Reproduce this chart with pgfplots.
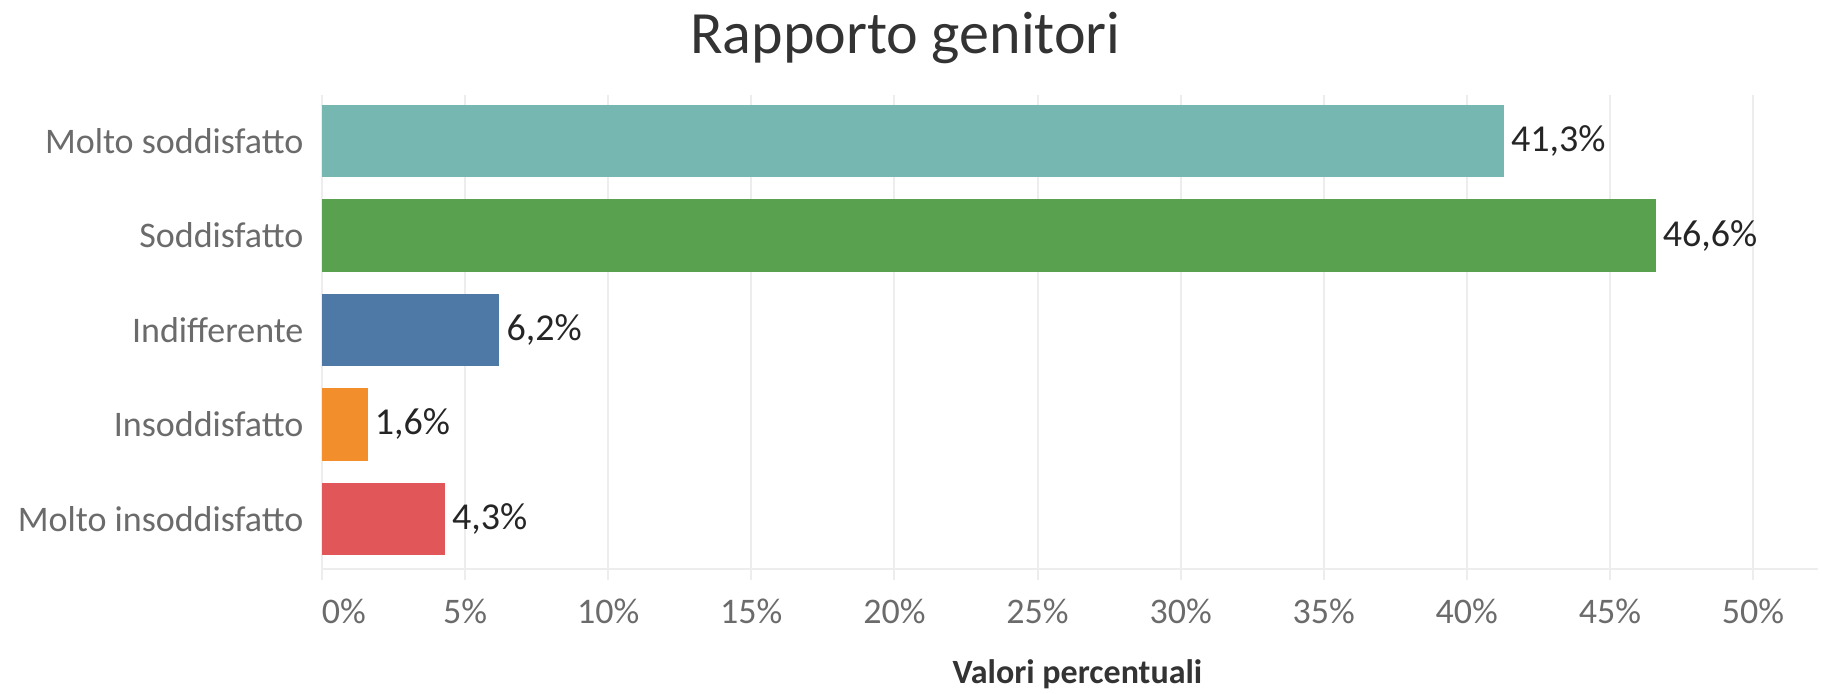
\documentclass[border=0pt]{standalone}
\usepackage{fontspec}
\setmainfont{Carlito}
\usepackage{pgfplots}
\pgfplotsset{compat=1.18}
\definecolor{cteal}{HTML}{76B7B2}
\definecolor{cgreen}{HTML}{59A14F}
\definecolor{cblue}{HTML}{4E79A7}
\definecolor{corange}{HTML}{F28E2B}
\definecolor{cred}{HTML}{E15759}
\definecolor{gridc}{HTML}{EDEDED}
\definecolor{tickc}{HTML}{6B6B6B}
\definecolor{valc}{HTML}{252525}
\definecolor{titc}{HTML}{333333}
\begin{document}
\begin{tikzpicture}
\useasboundingbox (0,0) rectangle (911pt,346.5pt);
\begin{axis}[
  at={(161pt,62pt)}, anchor=south west,
  scale only axis, width=748pt, height=237pt,
  xbar, bar width=0.77, bar shift=0pt,
  xmin=0, xmax=52.27, ymin=-0.487, ymax=4.53, y dir=reverse,
  ytick={0,1,2,3,4},
  yticklabels={Molto soddisfatto, Soddisfatto, Indifferente, Insoddisfatto, Molto insoddisfatto},
  xtick={0,5,10,15,20,25,30,35,40,45,50},
  xticklabels={\makebox[0pt][l]{0\%},5\%,10\%,15\%,20\%,25\%,30\%,35\%,40\%,45\%,50\%},
  axis x line=bottom, axis y line=left,
  axis line style={-},
  x axis line style={draw=gridc, line width=1pt},
  y axis line style={draw=none},
  xmajorgrids, grid style={draw=gridc, line width=1pt},
  major tick length=5.5pt, xtick align=outside,
  xtick style={draw=gridc, line width=1pt},
  ytick style={draw=none},
  xticklabel style={font=\fontsize{18}{20}\selectfont, text=tickc, yshift=-6pt},
  yticklabel style={font=\fontsize{18}{20}\selectfont, text=tickc, xshift=-3pt},
  /pgf/number format/assume math mode=true,
  point meta=x,
  nodes near coords={\pgfmathprintnumber[fixed,fixed zerofill,precision=1,use comma]{\pgfplotspointmeta}\%},
  every node near coord/.append style={font=\fontsize{19}{21}\selectfont, text=valc},
  xlabel={Valori percentuali},
  xlabel style={at={(axis description cs:0.505,0)}, anchor=base, yshift=-57pt, font=\bfseries\fontsize{17}{20}\selectfont, text=titc},
  title={Rapporto genitori},
  title style={at={(axis description cs:0.39,1)}, anchor=base, yshift=15pt, font=\fontsize{30}{34}\selectfont, text=titc},
]
\addplot[fill=cteal, draw=none] coordinates {(41.3,0)};
\addplot[fill=cgreen, draw=none] coordinates {(46.6,1)};
\addplot[fill=cblue, draw=none] coordinates {(6.2,2)};
\addplot[fill=corange, draw=none] coordinates {(1.6,3)};
\addplot[fill=cred, draw=none] coordinates {(4.3,4)};
\end{axis}
\end{tikzpicture}
\end{document}
